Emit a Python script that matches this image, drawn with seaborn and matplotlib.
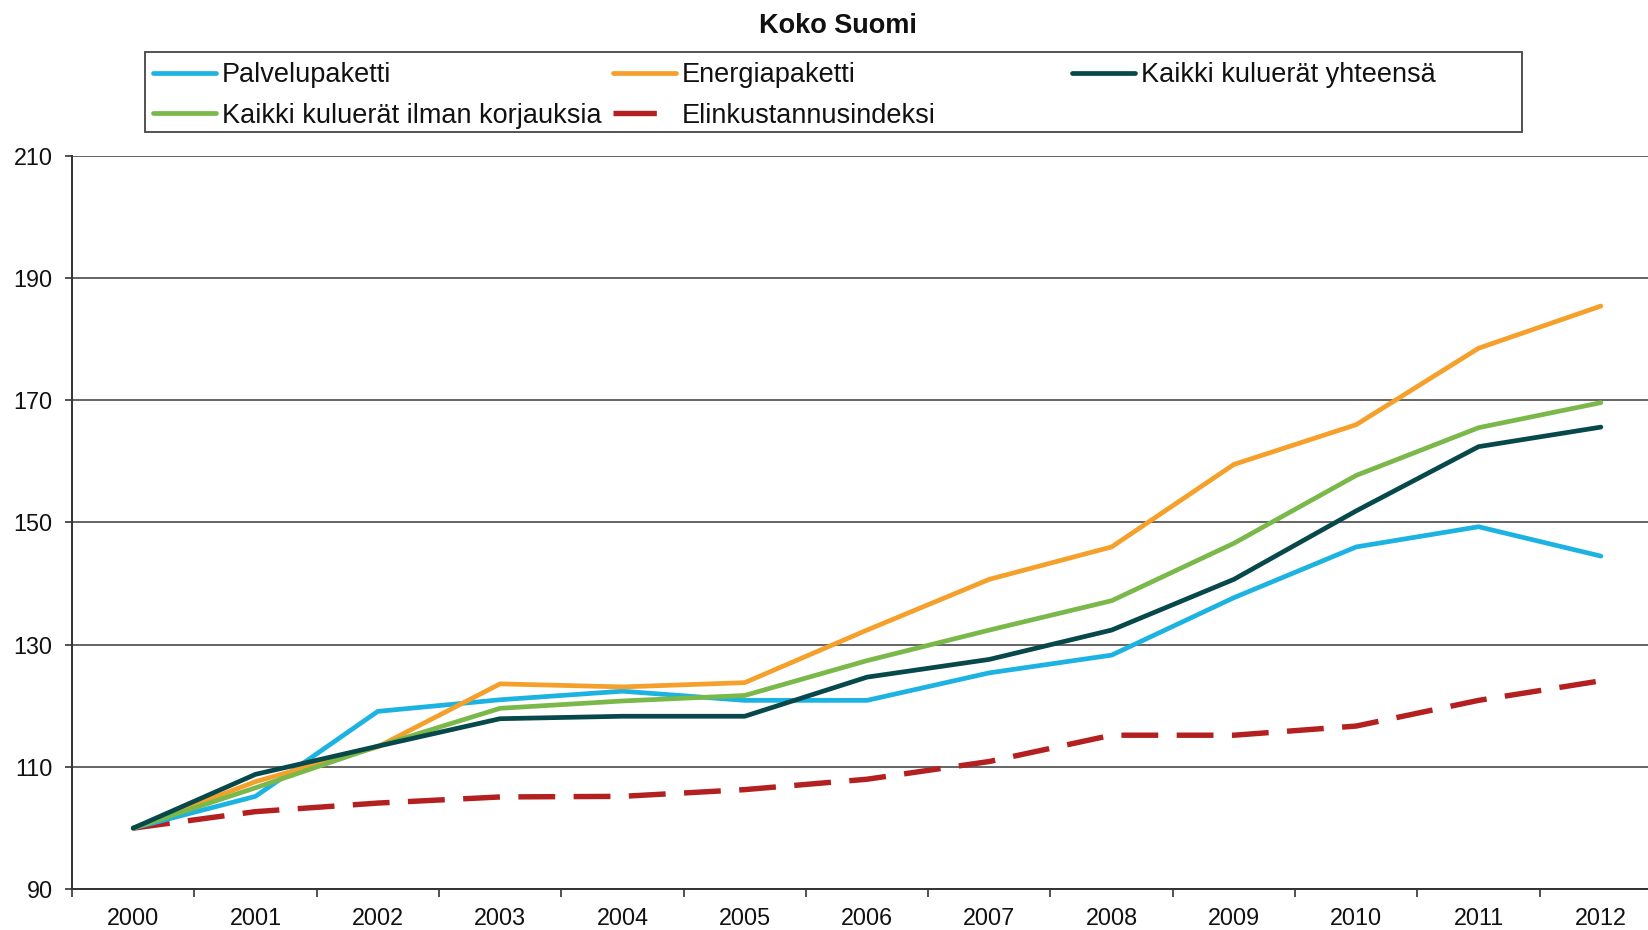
import numpy as np
import pandas as pd
import seaborn as sns
import matplotlib.pyplot as plt
from matplotlib.lines import Line2D
from matplotlib.patches import Rectangle

# data
years = ['2000', '2001', '2002', '2003', '2004', '2005', '2006',
         '2007', '2008', '2009', '2010', '2011', '2012']
palvelupaketti = [100, 105.2, 119.1, 121.0, 122.4, 120.9, 120.9, 125.4, 128.3, 137.7, 146.0, 149.3, 144.5]
energiapaketti = [100, 107.6, 113.3, 123.6, 123.1, 123.8, 132.4, 140.7, 146.0, 159.5, 166.0, 178.5, 185.4]
kaikki_yht = [100, 108.8, 113.4, 117.9, 118.3, 118.3, 124.7, 127.6, 132.4, 140.7, 151.9, 162.4, 165.6]
kaikki_ilman = [100, 106.6, 113.4, 119.6, 120.8, 121.7, 127.4, 132.4, 137.2, 146.6, 157.7, 165.5, 169.6]
elinkustannus = [100, 102.7, 104.1, 105.1, 105.2, 106.3, 108.0, 110.9, 115.2, 115.2, 116.7, 120.9, 124.1]

names = ['Palvelupaketti', 'Energiapaketti', 'Kaikki kuluerät yhteensä',
         'Kaikki kuluerät ilman korjauksia', 'Elinkustannusindeksi']
series = [palvelupaketti, energiapaketti, kaikki_yht, kaikki_ilman, elinkustannus]
colors = ['#1cb3e2', '#f5a02a', '#07494b', '#7bb84a', '#b3201f']

sns.set_style('white')
plt.rcParams['font.family'] = ['Liberation Sans', 'DejaVu Sans']

fig = plt.figure(figsize=(16.48, 9.3), dpi=100)
ax = fig.add_axes([0.0437, 0.0438, 0.9648, 0.7888])

x = np.arange(len(years))
# draw order: dashed first, then the solid ones on top
for i in [4, 0, 1, 3, 2]:
    df = pd.DataFrame({'x': x, 'y': series[i]})
    if i == 4:
        sns.lineplot(data=df, x='x', y='y', ax=ax, color=colors[i], lw=3.9,
                     linestyle=(0, (6.8, 3.4)))
    else:
        sns.lineplot(data=df, x='x', y='y', ax=ax, color=colors[i], lw=3.4)

ax.set_xlim(-0.5, len(years) - 0.5)
ax.set_ylim(90, 210)
ax.set_yticks(np.arange(90, 211, 20))
ax.set_xlabel('')
ax.set_ylabel('')

# category labels centred, ticks on boundaries
ax.set_xticks(np.arange(-0.5, len(years), 1))
ax.set_xticklabels([])
ax.set_xticks(x, minor=True)
ax.set_xticklabels(years, minor=True)
ax.tick_params(axis='x', which='major', direction='out', length=6, width=1.2, color='#333333', bottom=True)
ax.tick_params(axis='x', which='minor', length=0, pad=13, labelsize=16.8, labelcolor='#111111')
ax.tick_params(axis='y', direction='out', length=5, width=1.2, color='#333333', left=True,
               pad=9, labelsize=16.8, labelcolor='#111111')

ax.grid(axis='y', color='#4a4a4a', lw=1.2)
ax.grid(axis='x', visible=False)
for s in ['top', 'right']:
    ax.spines[s].set_visible(False)
for s in ['left', 'bottom']:
    ax.spines[s].set_color('#333333')
    ax.spines[s].set_linewidth(1.4)

fig.text(838 / 1648, 1 - 33 / 930, 'Koko Suomi', ha='center', va='baseline',
         fontsize=19.5, fontweight='bold', color='#111111')

# legend: a frame and three columns
fig.patches.append(Rectangle((145 / 1648, 1 - 132.3 / 930), 1377 / 1648, 80.6 / 930,
                             transform=fig.transFigure, fill=False,
                             edgecolor='#444444', lw=1.3))

def proxy(i):
    if i == 4:
        return Line2D([], [], color=colors[i], lw=3.9, linestyle=(0, (8.0, 4)))
    return Line2D([], [], color=colors[i], lw=3.4)

cols = [([0, 3], 153), ([1, 4], 613), ([2], 1072)]
for idx, xpos in cols:
    leg = fig.legend([proxy(i) for i in idx], [names[i] for i in idx],
                     loc='upper left', bbox_to_anchor=(xpos / 1648, 1 - 62 / 930),
                     frameon=False, borderpad=0, borderaxespad=0,
                     handlelength=2.33, handletextpad=0.22, labelspacing=0.54,
                     fontsize=19.5)
    for t in leg.get_texts():
        t.set_color('#111111')

fig.savefig('out.png', dpi=100)
